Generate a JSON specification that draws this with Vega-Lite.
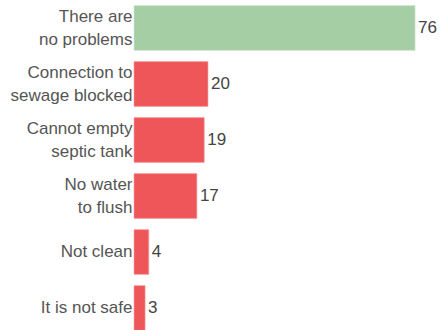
{
  "$schema": "https://vega.github.io/schema/vega-lite/v6.json",
  "width": 307,
  "height": 336,
  "autosize": {"type": "none"},
  "padding": {"left": 134, "top": 0, "right": 0, "bottom": 0},
  "config": {"view": {"stroke": null}, "font": "Liberation Sans"},
  "data": {"values": [
    {"label": "There are|no problems", "value": 76, "group": "good"},
    {"label": "Connection to|sewage blocked", "value": 20, "group": "bad"},
    {"label": "Cannot empty|septic tank", "value": 19, "group": "bad"},
    {"label": "No water|to flush", "value": 17, "group": "bad"},
    {"label": "Not clean", "value": 4, "group": "bad"},
    {"label": "It is not safe", "value": 3, "group": "bad"}
  ]},
  "encoding": {
    "y": {"field": "label", "type": "nominal", "sort": null,
      "scale": {"paddingInner": 0.2, "paddingOuter": 0.1},
      "axis": {"title": null, "domain": false, "ticks": false, "labelPadding": 2,
        "labelFontSize": 17, "labelColor": "#555555", "labelLineHeight": 23,
        "labelOffset": {"condition": {"test": "indexof(datum.value, '|') >= 0", "value": -11}, "value": 0},
        "labelExpr": "split(datum.value, '|')", "labelLimit": 200}},
    "x": {"field": "value", "type": "quantitative",
      "scale": {"domain": [0, 83], "nice": false}, "axis": null}
  },
  "layer": [
    {"mark": {"type": "bar", "strokeWidth": 1, "strokeOpacity": 0.6},
     "encoding": {
       "color": {"field": "group", "type": "nominal", "legend": null,
         "scale": {"domain": ["good", "bad"], "range": ["#a5cea5", "#ef5659"]}},
       "stroke": {"field": "group", "type": "nominal", "legend": null,
         "scale": {"domain": ["good", "bad"], "range": ["#d6e8d3", "#f7a0a0"]}}
     }},
    {"mark": {"type": "text", "align": "left", "dx": 3, "fontSize": 17, "color": "#444444"},
     "encoding": {"text": {"field": "value", "type": "quantitative"}}}
  ]
}
